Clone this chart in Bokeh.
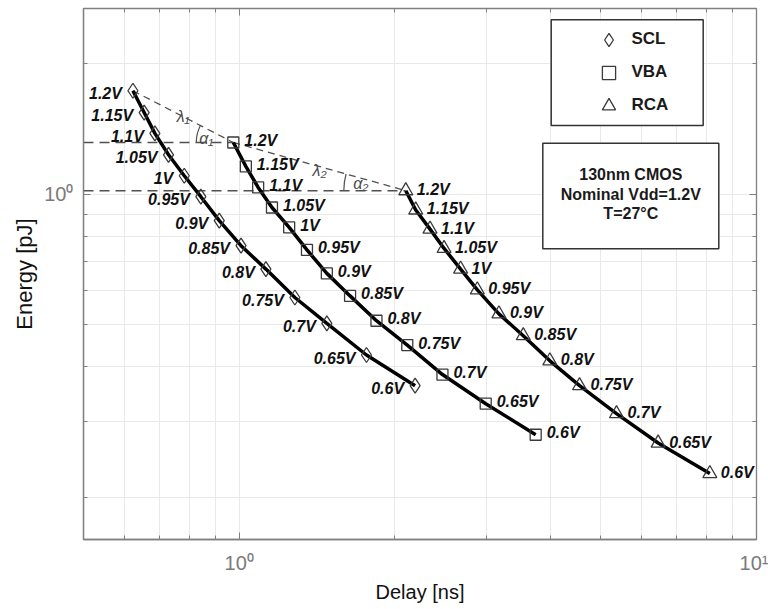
import math
from bokeh.plotting import figure
from bokeh.models import (FixedTicker, LogAxis, Legend, LegendItem, BoxAnnotation,
                          Label, Range1d)
from bokeh.core.properties import value
from bokeh.embed import file_html
from bokeh.resources import INLINE

# ---------------- data ----------------
VOLTAGES = ["1.2V", "1.15V", "1.1V", "1.05V", "1V", "0.95V", "0.9V",
            "0.85V", "0.8V", "0.75V", "0.7V", "0.65V", "0.6V"]

SCL_DELAY = [0.623, 0.655, 0.687, 0.730, 0.783, 0.843, 0.915, 1.008, 1.126, 1.281, 1.477, 1.762, 2.188]
SCL_ENERGY = [1.732, 1.543, 1.381, 1.233, 1.103, 0.987, 0.869, 0.761, 0.672, 0.578, 0.504, 0.426, 0.362]

VBA_DELAY = [0.974, 1.030, 1.088, 1.157, 1.249, 1.352, 1.477, 1.638, 1.842, 2.113, 2.471, 2.996, 3.742]
VBA_ENERGY = [1.316, 1.159, 1.037, 0.932, 0.839, 0.744, 0.657, 0.583, 0.511, 0.449, 0.384, 0.329, 0.279]

RCA_DELAY = [2.099, 2.194, 2.338, 2.489, 2.679, 2.886, 3.177, 3.541, 3.986, 4.549, 5.362, 6.454, 8.124]
RCA_ENERGY = [1.019, 0.920, 0.831, 0.750, 0.672, 0.602, 0.530, 0.472, 0.413, 0.362, 0.312, 0.267, 0.227]

SERIES_NAMES = ["SCL", "VBA", "RCA"]
INFO_LINES = ["130nm CMOS", "Nominal Vdd=1.2V", "T=27°C"]

X_LIMITS = [0.5, 10]
Y_LIMITS = [0.16, 2.68]
X_MAJOR = [1, 10]
X_MINOR = [0.5, 0.6, 0.7, 0.8, 0.9, 2, 3, 4, 5, 6, 7, 8, 9]
Y_MAJOR = [1]
Y_MINOR = [0.2, 0.3, 0.4, 0.5, 0.6, 0.7, 0.8, 0.9, 2]
X_TICK_LABELS = {1: "10⁰", 10: "10¹"}
Y_TICK_LABELS = {1: "10⁰"}

# ---------------- figure ----------------
FONT = "Liberation Sans"
FW, FH = 673, 531
p = figure(width=768, height=609, frame_width=FW, frame_height=FH,
           x_axis_type="log", y_axis_type="log",
           x_range=Range1d(*X_LIMITS), y_range=Range1d(*Y_LIMITS),
           output_backend="svg", toolbar_location=None,
           min_border_left=83, min_border_top=8, min_border_right=12, min_border_bottom=70,
           background_fill_color="white", border_fill_color="white")
p.outline_line_color = "#808080"
p.outline_line_width = 1.3

xt = FixedTicker(ticks=X_MAJOR, minor_ticks=X_MINOR)
yt = FixedTicker(ticks=Y_MAJOR, minor_ticks=Y_MINOR)

for ax, tk, labels in ((p.xaxis[0], xt, X_TICK_LABELS), (p.yaxis[0], yt, Y_TICK_LABELS)):
    ax.ticker = tk
    ax.major_label_overrides = labels
    ax.major_tick_in = 7
    ax.major_tick_out = 0
    ax.minor_tick_in = 4
    ax.minor_tick_out = 0
    ax.axis_line_color = "#808080"
    ax.axis_line_width = 1.3
    ax.major_tick_line_color = "#808080"
    ax.minor_tick_line_color = "#808080"
    ax.major_label_text_font = FONT
    ax.major_label_text_font_size = "20px"
    ax.major_label_text_color = "#7a7a7a"
    ax.axis_label_text_font = FONT
    ax.axis_label_text_font_style = "normal"
    ax.axis_label_text_color = "#111111"

p.xaxis.axis_label = "Delay [ns]"
p.yaxis.axis_label = "Energy [pJ]"
p.xaxis.axis_label_text_font_size = "20px"
p.yaxis.axis_label_text_font_size = "22px"
p.xaxis.major_label_standoff = 12
p.yaxis.major_label_standoff = 10
p.xaxis.axis_label_standoff = 4
p.yaxis.axis_label_standoff = 4

for place, tk in (("above", xt), ("right", yt)):
    ax = LogAxis(ticker=tk, major_tick_in=7, major_tick_out=0, minor_tick_in=4, minor_tick_out=0,
                 axis_line_color="#808080", major_tick_line_color="#808080",
                 minor_tick_line_color="#808080", major_label_text_font_size="0px",
                 major_label_standoff=0)
    ax.major_label_overrides = {t: "" for t in tk.ticks}
    p.add_layout(ax, place)

GRID = "#e9e9e9"
for g in (p.xgrid[0], p.ygrid[0]):
    g.grid_line_color = GRID
    g.minor_grid_line_color = GRID
    g.grid_line_width = 1
    g.minor_grid_line_width = 1

# ---------------- dashed construction lines ----------------
DASH_COL = "#505050"
p.line([X_LIMITS[0], VBA_DELAY[0]], [VBA_ENERGY[0], VBA_ENERGY[0]],
       line_color=DASH_COL, line_width=1.5, line_dash="10 6")
p.line([X_LIMITS[0], RCA_DELAY[0]], [RCA_ENERGY[0], RCA_ENERGY[0]],
       line_color=DASH_COL, line_width=1.5, line_dash="10 6")
p.line([SCL_DELAY[0], VBA_DELAY[0]], [SCL_ENERGY[0], VBA_ENERGY[0]],
       line_color=DASH_COL, line_width=1.3, line_dash="7 5")
p.line([VBA_DELAY[0], RCA_DELAY[0]], [VBA_ENERGY[0], RCA_ENERGY[0]],
       line_color=DASH_COL, line_width=1.3, line_dash="7 5")

# angle arcs (screen-space angles derived from data)
KX = FW / math.log10(X_LIMITS[1] / X_LIMITS[0])
KY = FH / math.log10(Y_LIMITS[1] / Y_LIMITS[0])


def screen_angle(x0, y0, x1, y1):
    return math.atan2(math.log10(y1 / y0) * KY, math.log10(x1 / x0) * KX)


a1 = screen_angle(VBA_DELAY[0], VBA_ENERGY[0], SCL_DELAY[0], SCL_ENERGY[0])
a2 = screen_angle(RCA_DELAY[0], RCA_ENERGY[0], VBA_DELAY[0], VBA_ENERGY[0])
p.arc(x=[VBA_DELAY[0]], y=[VBA_ENERGY[0]], radius=37, radius_units="screen",
      start_angle=a1, end_angle=math.pi, line_color=DASH_COL, line_width=1.2)
p.arc(x=[RCA_DELAY[0]], y=[RCA_ENERGY[0]], radius=62, radius_units="screen",
      start_angle=a2, end_angle=math.pi, line_color=DASH_COL, line_width=1.2)

greek_kw = dict(text_font=value(FONT), text_font_size="16px", text_font_style="italic",
                text_color="#4a4a4a", text_align="center", text_baseline="middle")
p.text(x=[math.sqrt(SCL_DELAY[0] * VBA_DELAY[0])], y=[math.sqrt(SCL_ENERGY[0] * VBA_ENERGY[0])],
       text=["λ₁"], y_offset=0, **greek_kw)
p.text(x=[math.sqrt(VBA_DELAY[0] * RCA_DELAY[0])], y=[math.sqrt(VBA_ENERGY[0] * RCA_ENERGY[0])],
       text=["λ₂"], y_offset=4, **greek_kw)
p.text(x=[VBA_DELAY[0]], y=[VBA_ENERGY[0]], text=["α₁"], x_offset=-27, y_offset=-4, **greek_kw)
p.text(x=[RCA_DELAY[0]], y=[RCA_ENERGY[0]], text=["α₂"], x_offset=-45, y_offset=-7, **greek_kw)

# ---------------- curves, markers, labels ----------------
MARK_COL = "#3a3a3a"
series = [
    (SCL_DELAY, SCL_ENERGY, "diamond", 15, -11, 3, "right"),
    (VBA_DELAY, VBA_ENERGY, "square", 11, 11, -2, "left"),
    (RCA_DELAY, RCA_ENERGY, "triangle", 14, 11, -1, "left"),
]
marker_renderers = []
for d, e, mk, sz, xo, yo, align in series:
    p.line(d, e, line_color="black", line_width=3.5)
    r = p.scatter(d, e, marker=mk, size=sz, fill_alpha=0, line_color=MARK_COL, line_width=1.3)
    marker_renderers.append(r)
    p.text(x=d, y=e, text=VOLTAGES, x_offset=xo, y_offset=yo,
           text_font=value(FONT), text_font_size="16px", text_font_style="bold italic",
           text_color="#111111", text_align=align, text_baseline="middle")

# ---------------- legend box ----------------
FRAME_LEFT, FRAME_BOTTOM = 83, 539
legend_box = BoxAnnotation(left=550.7 - FRAME_LEFT, right=702.7 - FRAME_LEFT,
                           top=FRAME_BOTTOM - 19.3, bottom=FRAME_BOTTOM - 125,
                           left_units="screen", right_units="screen",
                           top_units="screen", bottom_units="screen",
                           fill_color="white", fill_alpha=1, line_color="#333333",
                           line_width=1.5, line_alpha=1)
info_box = BoxAnnotation(left=542.3 - FRAME_LEFT, right=718.3 - FRAME_LEFT,
                         top=FRAME_BOTTOM - 142.7, bottom=FRAME_BOTTOM - 248.3,
                         left_units="screen", right_units="screen",
                         top_units="screen", bottom_units="screen",
                         fill_color="white", fill_alpha=1, line_color="#333333",
                         line_width=1.5, line_alpha=1)
p.add_layout(legend_box)
p.add_layout(info_box)

legend = Legend(items=[LegendItem(label=n, renderers=[r]) for n, r in zip(SERIES_NAMES, marker_renderers)],
                location=(591.5 - FRAME_LEFT, FRAME_BOTTOM - 121.6),
                padding=0, spacing=0, margin=0, glyph_width=33, glyph_height=33,
                label_height=33, label_standoff=7,
                label_text_font=FONT, label_text_font_size="17px", label_text_font_style="bold",
                label_text_color="#1a1a1a", border_line_alpha=0, background_fill_alpha=0)
p.add_layout(legend)

for i, line in enumerate(INFO_LINES):
    p.add_layout(Label(x=630.3 - FRAME_LEFT, y=FRAME_BOTTOM - (174 + 19.7 * i),
                       x_units="screen", y_units="screen", text=line,
                       text_font=FONT, text_font_size="16px", text_font_style="bold",
                       text_color="#1a1a1a", text_align="center", text_baseline="middle"))

open("out.html", "w").write(file_html(p, INLINE))
